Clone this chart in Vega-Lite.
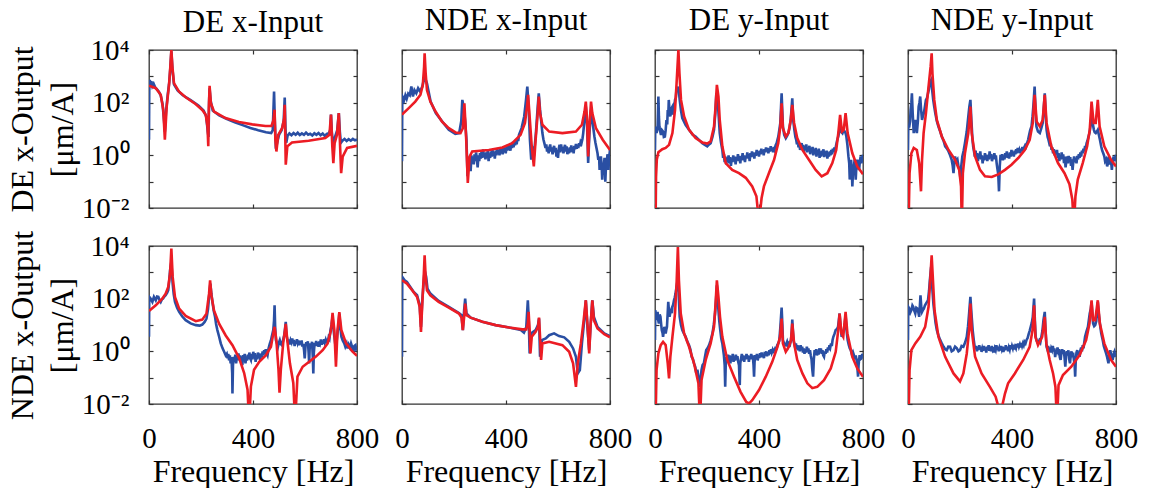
{
"$schema": "https://vega.github.io/schema/vega-lite/v6.json",
"padding": {"left": 5, "top": 4, "right": 5, "bottom": 0},
"config": {
  "font": "Liberation Serif",
  "view": {"stroke": "#333333", "strokeWidth": 1.3},
  "axis": {"domain": false, "grid": false, "tickColor": "#333333", "tickSize": -4, "tickWidth": 1.2,
    "labelFont": "Liberation Serif", "labelFontSize": 29, "labelColor": "#000000",
    "titleFont": "Liberation Serif", "titleFontSize": 32, "titleFontWeight": "normal", "titleColor": "#000000",
    "labelFlush": false, "labelOverlap": false, "labelBound": false},
  "title": {"font": "Liberation Serif", "fontSize": 31, "fontWeight": "normal", "color": "#000000", "offset": 12}
},
"datasets": {
"m11": [{"f":0,"a":3.9},{"f":1,"a":300},{"f":3,"a":730},{"f":6,"a":480},{"f":9,"a":650},{"f":13,"a":420},{"f":18,"a":520},{"f":24,"a":380},{"f":30,"a":330},{"f":38,"a":260},{"f":45,"a":190},{"f":52,"a":90},{"f":58,"a":20},{"f":61,"a":8},{"f":65,"a":40},{"f":72,"a":200},{"f":78,"a":600},{"f":82,"a":2000},{"f":86,"a":9000},{"f":90,"a":2000},{"f":96,"a":500},{"f":110,"a":290},{"f":130,"a":190},{"f":160,"a":125},{"f":190,"a":78},{"f":210,"a":50},{"f":220,"a":30},{"f":226,"a":8},{"f":229,"a":5},{"f":231,"a":100},{"f":233,"a":350},{"f":237,"a":120},{"f":245,"a":50},{"f":270,"a":33},{"f":300,"a":24},{"f":330,"a":18},{"f":360,"a":14},{"f":390,"a":11},{"f":420,"a":9},{"f":450,"a":7.5},{"f":470,"a":7},{"f":476,"a":9},{"f":481,"a":265},{"f":484,"a":20},{"f":488,"a":1.8},{"f":493,"a":3},{"f":500,"a":6},{"f":510,"a":9},{"f":518,"a":20},{"f":522,"a":155},{"f":525,"a":10},{"f":528,"a":3},{"f":533,"a":5.5},{"f":540,"a":6.8},{"f":548,"a":5.8},{"f":556,"a":7},{"f":564,"a":6},{"f":572,"a":7.2},{"f":580,"a":5.9},{"f":588,"a":6.8},{"f":596,"a":6},{"f":604,"a":7.3},{"f":612,"a":6.1},{"f":620,"a":6.6},{"f":628,"a":5.7},{"f":636,"a":6.9},{"f":644,"a":6},{"f":652,"a":7},{"f":660,"a":5.8},{"f":668,"a":6.7},{"f":676,"a":5.5},{"f":684,"a":6.5},{"f":692,"a":7},{"f":697,"a":9},{"f":700,"a":35},{"f":703,"a":8},{"f":708,"a":2.5},{"f":712,"a":4},{"f":718,"a":6},{"f":724,"a":9},{"f":730,"a":40},{"f":734,"a":8},{"f":738,"a":3},{"f":744,"a":3.6},{"f":752,"a":4.2},{"f":760,"a":3.5},{"f":768,"a":4.1},{"f":776,"a":3.6},{"f":784,"a":4.2},{"f":792,"a":3.7},{"f":800,"a":4}],
"r11": [{"f":0,"a":440},{"f":26,"a":355},{"f":45,"a":200},{"f":55,"a":54},{"f":61,"a":3.9},{"f":68,"a":71},{"f":77,"a":470},{"f":82,"a":2300},{"f":86,"a":10000},{"f":90,"a":2300},{"f":96,"a":550},{"f":115,"a":265},{"f":141,"a":160},{"f":179,"a":89},{"f":205,"a":53},{"f":218,"a":35},{"f":225,"a":12.5},{"f":228,"a":2.2},{"f":230,"a":54},{"f":233,"a":440},{"f":238,"a":95},{"f":250,"a":46},{"f":294,"a":26},{"f":346,"a":18.5},{"f":397,"a":15},{"f":448,"a":13},{"f":471,"a":13},{"f":479,"a":22},{"f":483,"a":54},{"f":486,"a":3.9},{"f":490,"a":1.4},{"f":497,"a":6},{"f":512,"a":10.7},{"f":520,"a":26},{"f":522,"a":83},{"f":526,"a":0.44},{"f":532,"a":2.2},{"f":550,"a":3.1},{"f":614,"a":3.6},{"f":678,"a":4.5},{"f":694,"a":6},{"f":700,"a":35},{"f":705,"a":2.2},{"f":709,"a":0.5},{"f":714,"a":2.9},{"f":723,"a":6},{"f":730,"a":40},{"f":735,"a":2.2},{"f":739,"a":0.21},{"f":745,"a":0.9},{"f":762,"a":1.9},{"f":800,"a":2.3}],
"m12": [{"f":0,"a":0.59},{"f":1,"a":127},{"f":3,"a":160},{"f":8,"a":125},{"f":13,"a":190},{"f":18,"a":140},{"f":24,"a":220},{"f":30,"a":190},{"f":36,"a":410},{"f":42,"a":171},{"f":48,"a":300},{"f":55,"a":228},{"f":62,"a":353},{"f":70,"a":264},{"f":78,"a":408},{"f":84,"a":730},{"f":87,"a":850},{"f":92,"a":700},{"f":96,"a":546},{"f":110,"a":110},{"f":130,"a":40},{"f":155,"a":19},{"f":180,"a":9.3},{"f":205,"a":6.5},{"f":220,"a":7},{"f":228,"a":20},{"f":232,"a":127},{"f":237,"a":71},{"f":243,"a":20},{"f":248,"a":3.9},{"f":252,"a":0.16},{"f":255,"a":0.7},{"f":258,"a":0.3},{"f":261,"a":0.9},{"f":264,"a":0.25},{"f":267,"a":1.0},{"f":270,"a":0.5},{"f":273,"a":0.9},{"f":276,"a":0.45},{"f":279,"a":1.1},{"f":282,"a":0.6},{"f":285,"a":1.3},{"f":288,"a":0.7},{"f":291,"a":0.35},{"f":294,"a":1.0},{"f":297,"a":0.6},{"f":300,"a":1.2},{"f":303,"a":0.75},{"f":306,"a":1.4},{"f":309,"a":0.8},{"f":312,"a":1.7},{"f":315,"a":0.9},{"f":318,"a":1.2},{"f":321,"a":0.7},{"f":324,"a":1.3},{"f":327,"a":0.85},{"f":330,"a":1.5},{"f":333,"a":0.6},{"f":336,"a":1.1},{"f":339,"a":0.8},{"f":342,"a":1.4},{"f":345,"a":0.9},{"f":348,"a":1.6},{"f":351,"a":1.0},{"f":354,"a":1.3},{"f":357,"a":0.75},{"f":360,"a":1.5},{"f":363,"a":1.0},{"f":366,"a":1.8},{"f":369,"a":1.1},{"f":372,"a":1.6},{"f":375,"a":1.0},{"f":378,"a":1.9},{"f":381,"a":1.2},{"f":384,"a":1.7},{"f":387,"a":1.1},{"f":390,"a":2.1},{"f":393,"a":1.3},{"f":396,"a":1.9},{"f":399,"a":1.2},{"f":402,"a":2.2},{"f":405,"a":1.5},{"f":408,"a":2.6},{"f":411,"a":1.6},{"f":414,"a":2.3},{"f":417,"a":1.5},{"f":420,"a":2.8},{"f":423,"a":1.9},{"f":426,"a":3.2},{"f":429,"a":2.0},{"f":432,"a":3.4},{"f":435,"a":2.4},{"f":438,"a":3.9},{"f":441,"a":2.6},{"f":444,"a":4.5},{"f":447,"a":3.5},{"f":450,"a":6},{"f":455,"a":8},{"f":460,"a":10.8},{"f":465,"a":18},{"f":470,"a":30},{"f":477,"a":127},{"f":482,"a":408},{"f":487,"a":71},{"f":492,"a":3.9},{"f":497,"a":0.68},{"f":502,"a":2.2},{"f":507,"a":0.91},{"f":515,"a":7},{"f":522,"a":71},{"f":526,"a":228},{"f":531,"a":53},{"f":540,"a":7},{"f":544,"a":4},{"f":548,"a":2.8},{"f":552,"a":1.9},{"f":555,"a":2.6},{"f":558,"a":1.4},{"f":561,"a":2.1},{"f":564,"a":1.2},{"f":567,"a":1.9},{"f":570,"a":2.6},{"f":573,"a":1.4},{"f":576,"a":2.0},{"f":579,"a":1.1},{"f":582,"a":1.7},{"f":585,"a":2.3},{"f":588,"a":1.3},{"f":591,"a":1.9},{"f":594,"a":0.9},{"f":597,"a":1.6},{"f":600,"a":0.8},{"f":603,"a":1.8},{"f":606,"a":2.5},{"f":609,"a":1.3},{"f":612,"a":2.6},{"f":615,"a":1.5},{"f":618,"a":2.1},{"f":621,"a":1.2},{"f":624,"a":1.9},{"f":627,"a":2.5},{"f":630,"a":1.4},{"f":633,"a":2.2},{"f":636,"a":1.1},{"f":639,"a":1.8},{"f":642,"a":1.2},{"f":645,"a":2.0},{"f":648,"a":1.3},{"f":651,"a":2.4},{"f":654,"a":1.4},{"f":657,"a":2.1},{"f":660,"a":1.2},{"f":663,"a":2.3},{"f":666,"a":1.7},{"f":669,"a":2.7},{"f":672,"a":1.8},{"f":675,"a":2.5},{"f":678,"a":1.9},{"f":681,"a":2.9},{"f":684,"a":2.2},{"f":687,"a":3.2},{"f":690,"a":2.8},{"f":694,"a":4.2},{"f":697,"a":7},{"f":703,"a":30},{"f":707,"a":71},{"f":712,"a":12.4},{"f":716,"a":0.51},{"f":721,"a":7},{"f":727,"a":53},{"f":732,"a":22},{"f":740,"a":5.2},{"f":744,"a":3},{"f":748,"a":1.9},{"f":752,"a":1.2},{"f":755,"a":0.68},{"f":758,"a":0.9},{"f":760,"a":0.28},{"f":763,"a":0.6},{"f":765,"a":0.91},{"f":768,"a":0.4},{"f":770,"a":0.12},{"f":773,"a":0.5},{"f":776,"a":0.38},{"f":779,"a":0.8},{"f":782,"a":0.1},{"f":785,"a":0.5},{"f":788,"a":0.68},{"f":791,"a":1.1},{"f":794,"a":0.28},{"f":797,"a":0.9},{"f":800,"a":1.6}],
"r12": [{"f":0,"a":35},{"f":26,"a":62},{"f":51,"a":110},{"f":71,"a":200},{"f":80,"a":470},{"f":85,"a":2300},{"f":87,"a":7500},{"f":91,"a":1300},{"f":96,"a":300},{"f":109,"a":110},{"f":129,"a":46},{"f":154,"a":19},{"f":180,"a":10.7},{"f":206,"a":7.4},{"f":225,"a":7},{"f":234,"a":10.7},{"f":240,"a":95},{"f":247,"a":3.9},{"f":253,"a":0.09},{"f":260,"a":0.9},{"f":270,"a":1.4},{"f":334,"a":1.6},{"f":386,"a":2},{"f":424,"a":2.9},{"f":456,"a":6},{"f":473,"a":17},{"f":481,"a":71},{"f":485,"a":200},{"f":489,"a":54},{"f":499,"a":2.2},{"f":507,"a":0.38},{"f":514,"a":3.9},{"f":522,"a":40},{"f":526,"a":170},{"f":531,"a":40},{"f":540,"a":14.5},{"f":566,"a":8},{"f":617,"a":7},{"f":669,"a":8},{"f":692,"a":14.5},{"f":702,"a":46},{"f":707,"a":110},{"f":712,"a":22},{"f":716,"a":0.9},{"f":721,"a":12.5},{"f":727,"a":110},{"f":732,"a":40},{"f":746,"a":10.7},{"f":772,"a":3.9},{"f":800,"a":1.6}],
"m13": [{"f":0,"a":1.6},{"f":1,"a":12.4},{"f":3,"a":9.3},{"f":6,"a":7},{"f":10,"a":10.8},{"f":13,"a":171},{"f":15,"a":30},{"f":17,"a":12.4},{"f":20,"a":8},{"f":23,"a":6},{"f":27,"a":9},{"f":31,"a":8},{"f":34,"a":5},{"f":38,"a":5.2},{"f":41,"a":9},{"f":44,"a":22},{"f":47,"a":15},{"f":49,"a":53},{"f":51,"a":30},{"f":53,"a":127},{"f":56,"a":45},{"f":59,"a":30},{"f":63,"a":60},{"f":67,"a":71},{"f":70,"a":35},{"f":72,"a":40},{"f":75,"a":80},{"f":77,"a":127},{"f":80,"a":150},{"f":82,"a":264},{"f":86,"a":300},{"f":90,"a":408},{"f":95,"a":127},{"f":100,"a":50},{"f":105,"a":26},{"f":118,"a":14},{"f":131,"a":9.3},{"f":145,"a":6},{"f":156,"a":5.2},{"f":170,"a":3.8},{"f":182,"a":2.9},{"f":192,"a":2.5},{"f":201,"a":2.2},{"f":208,"a":2.6},{"f":214,"a":2.9},{"f":221,"a":5},{"f":227,"a":9.3},{"f":232,"a":40},{"f":236,"a":228},{"f":241,"a":127},{"f":245,"a":30},{"f":249,"a":7},{"f":254,"a":3},{"f":259,"a":1.6},{"f":262,"a":0.8},{"f":265,"a":1.1},{"f":268,"a":0.55},{"f":271,"a":0.9},{"f":274,"a":0.45},{"f":277,"a":0.8},{"f":280,"a":0.6},{"f":283,"a":1.0},{"f":286,"a":0.5},{"f":289,"a":0.85},{"f":292,"a":0.4},{"f":295,"a":0.75},{"f":298,"a":0.55},{"f":301,"a":1.0},{"f":304,"a":0.6},{"f":307,"a":0.9},{"f":310,"a":0.45},{"f":313,"a":0.85},{"f":316,"a":0.65},{"f":319,"a":1.1},{"f":322,"a":0.6},{"f":325,"a":0.95},{"f":328,"a":0.5},{"f":331,"a":0.9},{"f":334,"a":0.7},{"f":337,"a":1.2},{"f":340,"a":0.65},{"f":343,"a":1.0},{"f":346,"a":0.55},{"f":349,"a":0.95},{"f":352,"a":0.75},{"f":355,"a":1.3},{"f":358,"a":0.8},{"f":361,"a":1.1},{"f":364,"a":0.6},{"f":367,"a":1.2},{"f":370,"a":0.85},{"f":373,"a":1.4},{"f":376,"a":0.9},{"f":379,"a":1.3},{"f":382,"a":0.75},{"f":385,"a":1.2},{"f":388,"a":0.95},{"f":391,"a":1.6},{"f":394,"a":1.0},{"f":397,"a":1.4},{"f":400,"a":0.9},{"f":403,"a":1.5},{"f":406,"a":1.1},{"f":409,"a":1.8},{"f":412,"a":1.2},{"f":415,"a":1.6},{"f":418,"a":1.0},{"f":421,"a":1.7},{"f":424,"a":1.3},{"f":427,"a":2.0},{"f":430,"a":1.4},{"f":433,"a":1.9},{"f":436,"a":1.2},{"f":439,"a":1.8},{"f":442,"a":1.4},{"f":445,"a":2.2},{"f":448,"a":1.5},{"f":451,"a":1.9},{"f":454,"a":1.3},{"f":457,"a":2.1},{"f":460,"a":1.7},{"f":464,"a":2.4},{"f":468,"a":2.9},{"f":471,"a":3.9},{"f":474,"a":5},{"f":478,"a":9},{"f":482,"a":17},{"f":487,"a":228},{"f":492,"a":12.4},{"f":497,"a":6},{"f":503,"a":4.5},{"f":508,"a":5.5},{"f":513,"a":7},{"f":518,"a":12},{"f":522,"a":22},{"f":528,"a":147},{"f":532,"a":20},{"f":536,"a":9.3},{"f":540,"a":5},{"f":543,"a":3.9},{"f":546,"a":2.6},{"f":549,"a":3.4},{"f":552,"a":2.0},{"f":555,"a":2.8},{"f":558,"a":1.6},{"f":561,"a":2.4},{"f":564,"a":2.9},{"f":567,"a":1.7},{"f":570,"a":2.5},{"f":573,"a":1.4},{"f":576,"a":2.2},{"f":579,"a":1.6},{"f":582,"a":2.6},{"f":585,"a":1.3},{"f":588,"a":2.0},{"f":591,"a":1.5},{"f":594,"a":2.3},{"f":597,"a":1.1},{"f":600,"a":1.9},{"f":603,"a":1.4},{"f":606,"a":2.1},{"f":609,"a":1.0},{"f":612,"a":1.7},{"f":615,"a":1.2},{"f":618,"a":1.9},{"f":621,"a":0.9},{"f":624,"a":1.6},{"f":627,"a":1.1},{"f":630,"a":1.8},{"f":633,"a":0.8},{"f":636,"a":1.4},{"f":639,"a":0.9},{"f":642,"a":1.5},{"f":645,"a":1.0},{"f":648,"a":1.7},{"f":651,"a":0.85},{"f":654,"a":1.4},{"f":657,"a":1.0},{"f":660,"a":1.5},{"f":663,"a":0.75},{"f":666,"a":1.3},{"f":669,"a":0.9},{"f":672,"a":1.4},{"f":675,"a":1.0},{"f":678,"a":1.6},{"f":681,"a":1.1},{"f":684,"a":1.8},{"f":687,"a":1.3},{"f":690,"a":2.0},{"f":693,"a":1.6},{"f":697,"a":2.5},{"f":700,"a":3.5},{"f":705,"a":5.2},{"f":712,"a":12.4},{"f":716,"a":8},{"f":721,"a":7},{"f":725,"a":9},{"f":730,"a":8},{"f":733,"a":7},{"f":736,"a":5.2},{"f":740,"a":2.5},{"f":744,"a":0.91},{"f":747,"a":0.5},{"f":749,"a":0.12},{"f":751,"a":0.4},{"f":754,"a":0.68},{"f":757,"a":0.3},{"f":759,"a":0.066},{"f":762,"a":0.3},{"f":765,"a":0.38},{"f":768,"a":0.7},{"f":770,"a":0.3},{"f":772,"a":0.12},{"f":775,"a":0.5},{"f":778,"a":0.68},{"f":781,"a":0.4},{"f":785,"a":0.28},{"f":788,"a":0.6},{"f":791,"a":0.91},{"f":794,"a":0.5},{"f":797,"a":0.8},{"f":800,"a":1.05}],
"r13": [{"f":2,"a":0.002},{"f":4,"a":0.15},{"f":7,"a":0.7},{"f":13,"a":1.3},{"f":28,"a":1.7},{"f":41,"a":1.9},{"f":54,"a":2.5},{"f":67,"a":7},{"f":77,"a":53},{"f":83,"a":546},{"f":90,"a":10000},{"f":94,"a":1300},{"f":100,"a":127},{"f":112,"a":30},{"f":131,"a":9.3},{"f":156,"a":4.5},{"f":182,"a":3.08},{"f":201,"a":2.8},{"f":214,"a":3.4},{"f":227,"a":12.4},{"f":233,"a":71},{"f":238,"a":472},{"f":244,"a":171},{"f":249,"a":22},{"f":259,"a":2.2},{"f":272,"a":0.51},{"f":297,"a":0.28},{"f":323,"a":0.21},{"f":349,"a":0.14},{"f":374,"a":0.066},{"f":390,"a":0.028},{"f":400,"a":0.003},{"f":410,"a":0.024},{"f":419,"a":0.066},{"f":438,"a":0.21},{"f":458,"a":0.68},{"f":474,"a":2.9},{"f":482,"a":12.4},{"f":487,"a":95},{"f":492,"a":10.8},{"f":503,"a":5.2},{"f":513,"a":7},{"f":522,"a":22},{"f":528,"a":82},{"f":535,"a":17},{"f":547,"a":4.5},{"f":567,"a":1.6},{"f":592,"a":0.68},{"f":618,"a":0.28},{"f":641,"a":0.16},{"f":663,"a":0.21},{"f":682,"a":0.51},{"f":697,"a":1.6},{"f":705,"a":7},{"f":712,"a":34},{"f":719,"a":8},{"f":726,"a":9.3},{"f":733,"a":40},{"f":741,"a":7},{"f":759,"a":1.2},{"f":778,"a":0.38},{"f":800,"a":0.19}],
"m14": [{"f":0,"a":1.6},{"f":1,"a":12.4},{"f":5,"a":12.4},{"f":8,"a":20},{"f":10,"a":53},{"f":13,"a":100},{"f":15,"a":228},{"f":18,"a":40},{"f":22,"a":7},{"f":25,"a":12},{"f":28,"a":22},{"f":31,"a":12},{"f":34,"a":7},{"f":38,"a":20},{"f":41,"a":71},{"f":44,"a":100},{"f":47,"a":171},{"f":50,"a":60},{"f":54,"a":22},{"f":57,"a":30},{"f":61,"a":40},{"f":65,"a":70},{"f":69,"a":127},{"f":73,"a":150},{"f":77,"a":228},{"f":80,"a":300},{"f":83,"a":546},{"f":86,"a":650},{"f":89,"a":730},{"f":93,"a":300},{"f":97,"a":127},{"f":101,"a":70},{"f":105,"a":40},{"f":111,"a":20},{"f":117,"a":12.4},{"f":124,"a":8},{"f":130,"a":5.2},{"f":137,"a":3.5},{"f":143,"a":2.2},{"f":150,"a":1.8},{"f":156,"a":1.4},{"f":162,"a":1.0},{"f":168,"a":0.68},{"f":172,"a":0.4},{"f":175,"a":0.21},{"f":178,"a":0.5},{"f":181,"a":0.91},{"f":185,"a":0.6},{"f":190,"a":0.7},{"f":194,"a":0.38},{"f":198,"a":0.3},{"f":202,"a":0.12},{"f":205,"a":0.4},{"f":209,"a":0.91},{"f":214,"a":1.5},{"f":219,"a":2.9},{"f":226,"a":8},{"f":232,"a":30},{"f":236,"a":70},{"f":240,"a":127},{"f":244,"a":20},{"f":248,"a":3.9},{"f":251,"a":2.0},{"f":254,"a":1.4},{"f":257,"a":0.9},{"f":260,"a":1.5},{"f":263,"a":0.8},{"f":266,"a":1.2},{"f":269,"a":0.6},{"f":272,"a":1.1},{"f":275,"a":0.75},{"f":278,"a":1.4},{"f":281,"a":0.7},{"f":284,"a":1.0},{"f":287,"a":0.5},{"f":290,"a":0.9},{"f":293,"a":0.65},{"f":296,"a":1.2},{"f":299,"a":0.7},{"f":302,"a":1.05},{"f":305,"a":0.6},{"f":308,"a":0.95},{"f":311,"a":0.7},{"f":314,"a":1.4},{"f":317,"a":0.8},{"f":320,"a":1.1},{"f":323,"a":0.6},{"f":326,"a":0.9},{"f":329,"a":0.7},{"f":332,"a":1.2},{"f":335,"a":0.8},{"f":338,"a":1.0},{"f":341,"a":0.5},{"f":344,"a":0.3},{"f":347,"a":0.2},{"f":350,"a":0.043},{"f":353,"a":0.4},{"f":356,"a":1.05},{"f":359,"a":0.8},{"f":362,"a":1.1},{"f":365,"a":0.65},{"f":368,"a":0.9},{"f":371,"a":0.7},{"f":374,"a":1.2},{"f":377,"a":0.85},{"f":380,"a":1.4},{"f":383,"a":0.8},{"f":386,"a":1.1},{"f":389,"a":0.75},{"f":392,"a":1.3},{"f":395,"a":0.9},{"f":398,"a":1.6},{"f":401,"a":1.0},{"f":404,"a":1.3},{"f":407,"a":0.9},{"f":410,"a":1.5},{"f":413,"a":1.1},{"f":416,"a":1.7},{"f":419,"a":1.2},{"f":422,"a":1.9},{"f":425,"a":1.3},{"f":428,"a":1.6},{"f":431,"a":1.2},{"f":434,"a":1.8},{"f":437,"a":1.4},{"f":440,"a":2.1},{"f":443,"a":1.5},{"f":446,"a":1.9},{"f":449,"a":2.2},{"f":452,"a":1.7},{"f":455,"a":2.5},{"f":458,"a":2.9},{"f":462,"a":3.9},{"f":466,"a":6},{"f":470,"a":9},{"f":475,"a":12.4},{"f":479,"a":30},{"f":482,"a":71},{"f":487,"a":408},{"f":491,"a":40},{"f":494,"a":12.4},{"f":500,"a":8},{"f":507,"a":7},{"f":512,"a":10},{"f":518,"a":17},{"f":522,"a":60},{"f":526,"a":228},{"f":530,"a":30},{"f":533,"a":9.3},{"f":537,"a":5},{"f":540,"a":4},{"f":543,"a":3.0},{"f":546,"a":2.2},{"f":549,"a":2.9},{"f":552,"a":1.6},{"f":555,"a":2.0},{"f":558,"a":1.2},{"f":561,"a":1.7},{"f":564,"a":1.0},{"f":567,"a":1.5},{"f":570,"a":1.1},{"f":573,"a":1.6},{"f":576,"a":0.8},{"f":579,"a":1.2},{"f":582,"a":0.6},{"f":585,"a":1.0},{"f":588,"a":0.7},{"f":591,"a":1.3},{"f":594,"a":0.75},{"f":597,"a":1.1},{"f":600,"a":0.5},{"f":603,"a":0.9},{"f":606,"a":0.35},{"f":609,"a":0.6},{"f":612,"a":0.9},{"f":615,"a":0.5},{"f":618,"a":0.95},{"f":621,"a":0.6},{"f":624,"a":0.85},{"f":627,"a":0.4},{"f":630,"a":0.7},{"f":633,"a":0.28},{"f":636,"a":0.6},{"f":639,"a":0.9},{"f":642,"a":0.55},{"f":645,"a":0.8},{"f":648,"a":0.5},{"f":651,"a":0.95},{"f":654,"a":0.7},{"f":657,"a":1.1},{"f":660,"a":0.8},{"f":663,"a":1.3},{"f":666,"a":0.9},{"f":669,"a":1.5},{"f":672,"a":1.2},{"f":675,"a":1.8},{"f":678,"a":1.4},{"f":681,"a":2.3},{"f":684,"a":1.9},{"f":687,"a":2.9},{"f":690,"a":3.5},{"f":694,"a":5},{"f":698,"a":7},{"f":703,"a":15},{"f":707,"a":40},{"f":711,"a":15},{"f":715,"a":9.3},{"f":718,"a":7.5},{"f":722,"a":7},{"f":726,"a":8},{"f":730,"a":9.3},{"f":734,"a":6},{"f":738,"a":4},{"f":743,"a":2.2},{"f":747,"a":1.5},{"f":751,"a":1.2},{"f":755,"a":0.91},{"f":758,"a":0.6},{"f":762,"a":0.7},{"f":766,"a":0.38},{"f":769,"a":0.5},{"f":772,"a":0.9},{"f":775,"a":0.68},{"f":778,"a":0.45},{"f":781,"a":0.6},{"f":784,"a":0.28},{"f":787,"a":0.6},{"f":791,"a":0.91},{"f":794,"a":0.6},{"f":797,"a":0.8},{"f":800,"a":1.05}],
"r14": [{"f":2,"a":0.002},{"f":6,"a":0.21},{"f":13,"a":1.2},{"f":22,"a":1.9},{"f":34,"a":1.6},{"f":43,"a":0.51},{"f":50,"a":0.043},{"f":54,"a":0.68},{"f":60,"a":7},{"f":69,"a":40},{"f":79,"a":408},{"f":87,"a":2330},{"f":91,"a":7480},{"f":94,"a":1300},{"f":101,"a":127},{"f":111,"a":22},{"f":130,"a":5.2},{"f":156,"a":1.6},{"f":181,"a":0.68},{"f":197,"a":0.28},{"f":204,"a":0.066},{"f":207,"a":0.002},{"f":211,"a":0.21},{"f":219,"a":1.2},{"f":232,"a":7},{"f":240,"a":71},{"f":245,"a":7},{"f":258,"a":0.91},{"f":277,"a":0.28},{"f":296,"a":0.16},{"f":322,"a":0.15},{"f":347,"a":0.19},{"f":373,"a":0.28},{"f":398,"a":0.44},{"f":424,"a":0.79},{"f":449,"a":1.6},{"f":468,"a":3.9},{"f":480,"a":17},{"f":487,"a":197},{"f":495,"a":19},{"f":507,"a":12.4},{"f":518,"a":22},{"f":526,"a":197},{"f":533,"a":17},{"f":551,"a":2.2},{"f":577,"a":0.51},{"f":602,"a":0.21},{"f":621,"a":0.08},{"f":632,"a":0.021},{"f":638,"a":0.002},{"f":644,"a":0.028},{"f":653,"a":0.12},{"f":672,"a":0.51},{"f":689,"a":2.2},{"f":699,"a":9.3},{"f":706,"a":110},{"f":714,"a":17},{"f":722,"a":17},{"f":730,"a":127},{"f":737,"a":12.4},{"f":755,"a":2.2},{"f":781,"a":0.68},{"f":800,"a":0.38}],
"m21": [{"f":0,"a":3.6},{"f":1,"a":117},{"f":6,"a":101},{"f":13,"a":75},{"f":19,"a":117},{"f":26,"a":87},{"f":31,"a":120},{"f":36,"a":117},{"f":40,"a":90},{"f":45,"a":75},{"f":50,"a":95},{"f":54,"a":101},{"f":59,"a":120},{"f":64,"a":135},{"f":70,"a":170},{"f":74,"a":209},{"f":78,"a":500},{"f":81,"a":1197},{"f":86,"a":2476},{"f":91,"a":374},{"f":95,"a":150},{"f":100,"a":75},{"f":108,"a":45},{"f":116,"a":31.5},{"f":128,"a":21},{"f":141,"a":15.2},{"f":160,"a":11.5},{"f":180,"a":9.9},{"f":195,"a":9.5},{"f":205,"a":10.4},{"f":214,"a":13},{"f":221,"a":17.6},{"f":227,"a":40},{"f":231,"a":117},{"f":236,"a":374},{"f":240,"a":150},{"f":244,"a":75},{"f":249,"a":35},{"f":254,"a":20.4},{"f":258,"a":11},{"f":263,"a":6.4},{"f":270,"a":3.5},{"f":276,"a":2},{"f":283,"a":1.3},{"f":289,"a":0.96},{"f":295,"a":0.7},{"f":299,"a":0.8},{"f":302,"a":0.54},{"f":305,"a":0.8},{"f":308,"a":0.45},{"f":311,"a":0.7},{"f":314,"a":0.35},{"f":317,"a":0.6},{"f":320,"a":0.15},{"f":321,"a":0.025},{"f":323,"a":0.3},{"f":326,"a":0.62},{"f":329,"a":0.4},{"f":332,"a":0.75},{"f":335,"a":0.35},{"f":338,"a":0.6},{"f":341,"a":0.45},{"f":344,"a":0.83},{"f":347,"a":0.5},{"f":350,"a":0.7},{"f":353,"a":0.4},{"f":356,"a":0.65},{"f":359,"a":0.3},{"f":362,"a":0.72},{"f":365,"a":0.5},{"f":368,"a":0.8},{"f":371,"a":0.35},{"f":374,"a":0.6},{"f":377,"a":0.45},{"f":380,"a":0.75},{"f":383,"a":0.5},{"f":386,"a":0.9},{"f":389,"a":0.55},{"f":392,"a":0.47},{"f":395,"a":0.8},{"f":398,"a":0.5},{"f":401,"a":0.96},{"f":404,"a":0.6},{"f":407,"a":0.85},{"f":410,"a":0.4},{"f":413,"a":0.7},{"f":416,"a":0.5},{"f":419,"a":0.9},{"f":422,"a":0.6},{"f":425,"a":0.83},{"f":428,"a":0.45},{"f":431,"a":0.75},{"f":434,"a":0.6},{"f":437,"a":1.0},{"f":440,"a":0.7},{"f":443,"a":1.11},{"f":446,"a":0.8},{"f":449,"a":1.2},{"f":452,"a":0.9},{"f":456,"a":0.72},{"f":460,"a":1.3},{"f":465,"a":2},{"f":469,"a":2.6},{"f":472,"a":3.56},{"f":478,"a":6.4},{"f":481,"a":15},{"f":483,"a":56},{"f":485,"a":10},{"f":488,"a":2.67},{"f":492,"a":2.0},{"f":496,"a":1.49},{"f":500,"a":2.2},{"f":503,"a":2.67},{"f":507,"a":1.9},{"f":511,"a":1.72},{"f":515,"a":2.5},{"f":520,"a":4.1},{"f":523,"a":7},{"f":526,"a":13.2},{"f":529,"a":4},{"f":533,"a":2.67},{"f":536,"a":2.0},{"f":539,"a":2.8},{"f":542,"a":1.8},{"f":545,"a":2.6},{"f":548,"a":2.2},{"f":551,"a":3.1},{"f":554,"a":2.0},{"f":557,"a":2.7},{"f":560,"a":1.6},{"f":563,"a":2.4},{"f":566,"a":1.9},{"f":569,"a":2.9},{"f":572,"a":2.1},{"f":575,"a":2.6},{"f":578,"a":1.7},{"f":581,"a":2.4},{"f":584,"a":1.9},{"f":587,"a":2.6},{"f":590,"a":1.5},{"f":593,"a":1.9},{"f":596,"a":1.2},{"f":599,"a":0.54},{"f":602,"a":1.6},{"f":605,"a":2.2},{"f":608,"a":1.7},{"f":611,"a":2.4},{"f":614,"a":0.9},{"f":616,"a":0.35},{"f":618,"a":1.3},{"f":621,"a":2.0},{"f":624,"a":1.6},{"f":627,"a":2.3},{"f":630,"a":0.6},{"f":632,"a":0.145},{"f":634,"a":0.9},{"f":637,"a":2.1},{"f":640,"a":1.7},{"f":643,"a":2.5},{"f":646,"a":1.6},{"f":649,"a":2.2},{"f":652,"a":1.5},{"f":655,"a":2.4},{"f":658,"a":2.0},{"f":661,"a":2.8},{"f":664,"a":1.8},{"f":667,"a":2.5},{"f":670,"a":1.9},{"f":673,"a":2.9},{"f":676,"a":2.2},{"f":679,"a":2.7},{"f":682,"a":2.0},{"f":685,"a":3.0},{"f":688,"a":2.3},{"f":691,"a":3.4},{"f":694,"a":3.0},{"f":698,"a":6.4},{"f":702,"a":10},{"f":706,"a":20.4},{"f":709,"a":8},{"f":713,"a":3.56},{"f":716,"a":2},{"f":719,"a":1.11},{"f":722,"a":2.5},{"f":725,"a":4.8},{"f":729,"a":10},{"f":732,"a":27.3},{"f":736,"a":8},{"f":740,"a":3.56},{"f":745,"a":2.6},{"f":751,"a":2},{"f":755,"a":1.5},{"f":760,"a":2.0},{"f":764,"a":1.29},{"f":768,"a":1.8},{"f":773,"a":1.4},{"f":777,"a":2},{"f":781,"a":1.5},{"f":786,"a":0.96},{"f":790,"a":1.6},{"f":794,"a":1.72},{"f":797,"a":1.2},{"f":800,"a":1.29}],
"r21": [{"f":0,"a":34},{"f":26,"a":56},{"f":51,"a":100},{"f":64,"a":155},{"f":74,"a":280},{"f":81,"a":900},{"f":86,"a":8000},{"f":91,"a":670},{"f":100,"a":115},{"f":116,"a":42},{"f":141,"a":22},{"f":180,"a":14},{"f":205,"a":16},{"f":221,"a":27},{"f":231,"a":155},{"f":235,"a":500},{"f":240,"a":135},{"f":250,"a":36},{"f":270,"a":11},{"f":295,"a":4},{"f":321,"a":1.7},{"f":347,"a":0.54},{"f":366,"a":0.15},{"f":379,"a":0.035},{"f":385,"a":0.002},{"f":392,"a":0.047},{"f":404,"a":0.2},{"f":424,"a":0.4},{"f":449,"a":0.7},{"f":469,"a":1.5},{"f":478,"a":4.7},{"f":483,"a":8.5},{"f":490,"a":2.6},{"f":498,"a":0.2},{"f":502,"a":0.027},{"f":507,"a":0.2},{"f":516,"a":2},{"f":523,"a":6.3},{"f":526,"a":11},{"f":532,"a":2.6},{"f":542,"a":0.35},{"f":555,"a":0.063},{"f":562,"a":0.002},{"f":571,"a":0.11},{"f":591,"a":0.26},{"f":616,"a":0.4},{"f":642,"a":0.63},{"f":668,"a":1.1},{"f":687,"a":2},{"f":700,"a":6.3},{"f":706,"a":29},{"f":713,"a":6.3},{"f":719,"a":0.26},{"f":725,"a":6.3},{"f":732,"a":31},{"f":740,"a":6.3},{"f":758,"a":2},{"f":783,"a":0.97},{"f":800,"a":0.67}],
"m22": [{"f":0,"a":0.62},{"f":1,"a":668},{"f":10,"a":500},{"f":19,"a":433},{"f":32,"a":279},{"f":45,"a":181},{"f":58,"a":135},{"f":68,"a":56},{"f":73,"a":8.5},{"f":78,"a":87},{"f":84,"a":500},{"f":87,"a":1197},{"f":93,"a":668},{"f":98,"a":242},{"f":109,"a":156},{"f":141,"a":82},{"f":180,"a":49},{"f":219,"a":28.5},{"f":229,"a":23.6},{"f":234,"a":6.4},{"f":239,"a":36.5},{"f":243,"a":101},{"f":248,"a":27.3},{"f":264,"a":19},{"f":309,"a":13.2},{"f":360,"a":9.9},{"f":412,"a":8},{"f":457,"a":6.4},{"f":469,"a":5.1},{"f":478,"a":8.5},{"f":484,"a":87},{"f":487,"a":20.4},{"f":491,"a":0.83},{"f":496,"a":4.8},{"f":514,"a":6.4},{"f":523,"a":9.9},{"f":527,"a":17.6},{"f":531,"a":0.62},{"f":538,"a":2.67},{"f":553,"a":3.08},{"f":566,"a":4.1},{"f":585,"a":4.8},{"f":604,"a":3.8},{"f":624,"a":3.4},{"f":643,"a":2.3},{"f":658,"a":1.29},{"f":669,"a":0.62},{"f":676,"a":0.145},{"f":684,"a":0.195},{"f":692,"a":2},{"f":701,"a":15.2},{"f":707,"a":87},{"f":714,"a":6.4},{"f":720,"a":1.11},{"f":725,"a":8.5},{"f":732,"a":87},{"f":738,"a":20.4},{"f":752,"a":8.5},{"f":778,"a":4.8},{"f":800,"a":3.8}],
"r22": [{"f":0,"a":500},{"f":19,"a":374},{"f":39,"a":209},{"f":58,"a":117},{"f":68,"a":49},{"f":73,"a":5.5},{"f":78,"a":65},{"f":84,"a":895},{"f":87,"a":4430},{"f":91,"a":668},{"f":96,"a":209},{"f":109,"a":135},{"f":141,"a":75.5},{"f":180,"a":46},{"f":219,"a":27.3},{"f":229,"a":19},{"f":234,"a":6.4},{"f":239,"a":20.4},{"f":243,"a":65},{"f":248,"a":23.6},{"f":264,"a":19},{"f":309,"a":13.2},{"f":360,"a":9.9},{"f":412,"a":8},{"f":463,"a":6.8},{"f":478,"a":6.8},{"f":484,"a":11.4},{"f":487,"a":31.5},{"f":491,"a":6.4},{"f":494,"a":0.83},{"f":499,"a":3.56},{"f":514,"a":5.5},{"f":523,"a":8.5},{"f":527,"a":19},{"f":531,"a":3.56},{"f":535,"a":0.47},{"f":540,"a":2},{"f":566,"a":2.3},{"f":617,"a":1.72},{"f":643,"a":0.96},{"f":658,"a":0.35},{"f":669,"a":0.045},{"f":676,"a":0.35},{"f":688,"a":2},{"f":698,"a":13.2},{"f":707,"a":87},{"f":714,"a":8.5},{"f":720,"a":0.83},{"f":725,"a":8.5},{"f":732,"a":87},{"f":738,"a":15.2},{"f":752,"a":7.4},{"f":778,"a":4.5},{"f":800,"a":3.4}],
"m23": [{"f":0,"a":2.67},{"f":1,"a":36.5},{"f":3,"a":27.3},{"f":6,"a":15.2},{"f":10,"a":31.5},{"f":13,"a":14},{"f":15,"a":11.4},{"f":18,"a":25},{"f":21,"a":20.4},{"f":24,"a":10},{"f":26,"a":6.4},{"f":29,"a":5},{"f":31,"a":3.56},{"f":34,"a":6},{"f":36,"a":8.5},{"f":39,"a":6},{"f":41,"a":4.8},{"f":44,"a":7},{"f":46,"a":8.5},{"f":49,"a":30},{"f":51,"a":75.5},{"f":54,"a":30},{"f":56,"a":20.4},{"f":59,"a":30},{"f":62,"a":36.5},{"f":65,"a":28},{"f":67,"a":49},{"f":70,"a":60},{"f":73,"a":87},{"f":76,"a":110},{"f":79,"a":156},{"f":82,"a":250},{"f":85,"a":374},{"f":88,"a":668},{"f":91,"a":150},{"f":95,"a":20.4},{"f":100,"a":10},{"f":105,"a":6.4},{"f":111,"a":4.8},{"f":118,"a":3.56},{"f":124,"a":2.4},{"f":131,"a":1.72},{"f":136,"a":1.2},{"f":141,"a":0.62},{"f":146,"a":0.5},{"f":150,"a":0.35},{"f":155,"a":0.25},{"f":159,"a":0.145},{"f":163,"a":0.2},{"f":167,"a":0.109},{"f":170,"a":0.08},{"f":173,"a":0.045},{"f":176,"a":0.1},{"f":179,"a":0.195},{"f":183,"a":0.3},{"f":188,"a":0.35},{"f":192,"a":0.6},{"f":197,"a":1.11},{"f":202,"a":1.3},{"f":208,"a":1.72},{"f":214,"a":2.6},{"f":221,"a":4.8},{"f":226,"a":10},{"f":231,"a":27.3},{"f":235,"a":100},{"f":238,"a":323},{"f":241,"a":100},{"f":244,"a":36.5},{"f":247,"a":15},{"f":251,"a":6.4},{"f":255,"a":3},{"f":259,"a":2},{"f":262,"a":1.2},{"f":265,"a":0.7},{"f":268,"a":0.3},{"f":270,"a":0.045},{"f":272,"a":0.3},{"f":275,"a":0.6},{"f":278,"a":0.4},{"f":281,"a":0.75},{"f":284,"a":0.45},{"f":287,"a":0.7},{"f":290,"a":0.35},{"f":293,"a":0.65},{"f":296,"a":0.5},{"f":299,"a":0.8},{"f":302,"a":0.4},{"f":305,"a":0.6},{"f":308,"a":0.45},{"f":311,"a":0.75},{"f":314,"a":0.5},{"f":317,"a":0.65},{"f":320,"a":0.4},{"f":323,"a":0.3},{"f":326,"a":0.052},{"f":328,"a":0.35},{"f":331,"a":0.54},{"f":334,"a":0.8},{"f":337,"a":0.45},{"f":340,"a":0.7},{"f":343,"a":0.4},{"f":346,"a":0.65},{"f":349,"a":0.5},{"f":352,"a":0.79},{"f":355,"a":0.55},{"f":358,"a":0.7},{"f":361,"a":0.4},{"f":364,"a":0.65},{"f":367,"a":0.5},{"f":370,"a":0.8},{"f":373,"a":0.55},{"f":376,"a":0.7},{"f":379,"a":0.3},{"f":381,"a":0.109},{"f":383,"a":0.4},{"f":386,"a":0.72},{"f":389,"a":0.5},{"f":392,"a":0.8},{"f":395,"a":0.45},{"f":398,"a":0.7},{"f":401,"a":0.55},{"f":404,"a":0.85},{"f":407,"a":0.6},{"f":410,"a":0.9},{"f":413,"a":0.6},{"f":416,"a":0.8},{"f":419,"a":0.55},{"f":422,"a":0.95},{"f":425,"a":0.7},{"f":428,"a":1.0},{"f":431,"a":0.65},{"f":434,"a":0.9},{"f":437,"a":0.7},{"f":440,"a":1.1},{"f":443,"a":0.8},{"f":446,"a":1.2},{"f":449,"a":0.9},{"f":452,"a":1.1},{"f":455,"a":0.85},{"f":458,"a":1.3},{"f":461,"a":1.0},{"f":464,"a":1.5},{"f":467,"a":1.2},{"f":470,"a":1.7},{"f":474,"a":2},{"f":478,"a":2.5},{"f":482,"a":8},{"f":487,"a":46},{"f":490,"a":10},{"f":492,"a":2.67},{"f":497,"a":1.9},{"f":503,"a":1.72},{"f":508,"a":2.3},{"f":512,"a":1.6},{"f":515,"a":2},{"f":519,"a":1.8},{"f":523,"a":2.67},{"f":526,"a":6},{"f":528,"a":16},{"f":531,"a":5},{"f":533,"a":2.5},{"f":536,"a":2},{"f":539,"a":1.4},{"f":542,"a":2.0},{"f":545,"a":1.2},{"f":548,"a":1.7},{"f":551,"a":1.1},{"f":554,"a":1.6},{"f":557,"a":1.0},{"f":560,"a":1.72},{"f":563,"a":1.1},{"f":566,"a":1.5},{"f":569,"a":0.9},{"f":572,"a":1.3},{"f":575,"a":0.8},{"f":578,"a":1.2},{"f":581,"a":0.9},{"f":584,"a":1.5},{"f":587,"a":1.0},{"f":590,"a":1.3},{"f":593,"a":0.8},{"f":596,"a":1.1},{"f":599,"a":0.7},{"f":602,"a":0.5},{"f":605,"a":0.2},{"f":608,"a":0.109},{"f":611,"a":0.5},{"f":614,"a":1.11},{"f":617,"a":0.8},{"f":620,"a":1.2},{"f":623,"a":0.7},{"f":626,"a":1.0},{"f":629,"a":0.75},{"f":632,"a":1.3},{"f":635,"a":0.9},{"f":638,"a":1.29},{"f":641,"a":0.8},{"f":644,"a":1.1},{"f":647,"a":0.7},{"f":650,"a":0.62},{"f":653,"a":1.0},{"f":656,"a":0.8},{"f":659,"a":1.2},{"f":662,"a":0.9},{"f":665,"a":1.4},{"f":668,"a":1.1},{"f":671,"a":1.7},{"f":674,"a":1.4},{"f":677,"a":2.0},{"f":680,"a":1.6},{"f":683,"a":2.7},{"f":686,"a":3.56},{"f":690,"a":4.5},{"f":695,"a":6.4},{"f":700,"a":7},{"f":704,"a":8.5},{"f":707,"a":15},{"f":710,"a":27.3},{"f":714,"a":8},{"f":718,"a":3.56},{"f":722,"a":5},{"f":726,"a":6.4},{"f":730,"a":12},{"f":733,"a":23.6},{"f":737,"a":6},{"f":741,"a":2.67},{"f":745,"a":1.8},{"f":749,"a":1.3},{"f":753,"a":1.11},{"f":757,"a":0.8},{"f":761,"a":0.95},{"f":765,"a":0.72},{"f":769,"a":0.5},{"f":772,"a":0.7},{"f":774,"a":0.54},{"f":777,"a":0.4},{"f":779,"a":0.2},{"f":781,"a":0.109},{"f":783,"a":0.3},{"f":787,"a":0.72},{"f":790,"a":0.5},{"f":794,"a":0.54},{"f":797,"a":0.8},{"f":800,"a":0.62}],
"r23": [{"f":2,"a":0.002},{"f":6,"a":0.195},{"f":13,"a":0.83},{"f":22,"a":1.72},{"f":31,"a":2.3},{"f":41,"a":1.72},{"f":49,"a":0.35},{"f":54,"a":0.094},{"f":59,"a":0.62},{"f":67,"a":3.56},{"f":77,"a":27.3},{"f":83,"a":374},{"f":88,"a":9160},{"f":92,"a":500},{"f":99,"a":27.3},{"f":112,"a":4.8},{"f":131,"a":1.49},{"f":150,"a":0.35},{"f":167,"a":0.061},{"f":173,"a":0.002},{"f":179,"a":0.081},{"f":195,"a":0.47},{"f":214,"a":2},{"f":227,"a":8.5},{"f":233,"a":65},{"f":238,"a":500},{"f":244,"a":117},{"f":250,"a":20.4},{"f":259,"a":3.56},{"f":278,"a":0.47},{"f":304,"a":0.109},{"f":329,"a":0.029},{"f":351,"a":0.012},{"f":362,"a":0.0106},{"f":374,"a":0.014},{"f":400,"a":0.034},{"f":426,"a":0.109},{"f":451,"a":0.4},{"f":471,"a":1.49},{"f":481,"a":3.56},{"f":487,"a":17.6},{"f":492,"a":2},{"f":503,"a":0.96},{"f":515,"a":1.49},{"f":523,"a":2.67},{"f":528,"a":11.4},{"f":535,"a":2},{"f":547,"a":0.47},{"f":567,"a":0.145},{"f":586,"a":0.061},{"f":605,"a":0.04},{"f":624,"a":0.045},{"f":650,"a":0.081},{"f":676,"a":0.225},{"f":695,"a":0.96},{"f":704,"a":5.5},{"f":710,"a":27.3},{"f":717,"a":4.8},{"f":724,"a":3.56},{"f":733,"a":31.5},{"f":740,"a":4.8},{"f":759,"a":0.62},{"f":778,"a":0.225},{"f":800,"a":0.109}],
"m24": [{"f":0,"a":2.67},{"f":1,"a":49},{"f":5,"a":42},{"f":9,"a":30},{"f":13,"a":36.5},{"f":17,"a":55},{"f":20,"a":49},{"f":24,"a":35},{"f":28,"a":27.3},{"f":32,"a":45},{"f":36,"a":42},{"f":40,"a":30},{"f":43,"a":20.4},{"f":46,"a":60},{"f":48,"a":135},{"f":51,"a":50},{"f":54,"a":31.5},{"f":58,"a":38},{"f":61,"a":42},{"f":65,"a":55},{"f":69,"a":65},{"f":73,"a":75},{"f":77,"a":87},{"f":81,"a":200},{"f":84,"a":500},{"f":87,"a":1000},{"f":89,"a":1600},{"f":92,"a":500},{"f":94,"a":209},{"f":98,"a":60},{"f":102,"a":27.3},{"f":106,"a":12},{"f":111,"a":6.4},{"f":117,"a":4},{"f":124,"a":2.67},{"f":130,"a":2},{"f":137,"a":1.49},{"f":143,"a":1.2},{"f":149,"a":1.11},{"f":155,"a":1.5},{"f":162,"a":1.49},{"f":168,"a":1.0},{"f":175,"a":1.11},{"f":181,"a":1.5},{"f":188,"a":1.29},{"f":194,"a":1.0},{"f":200,"a":1.11},{"f":206,"a":1.6},{"f":213,"a":1.49},{"f":220,"a":2.2},{"f":226,"a":3.56},{"f":231,"a":9},{"f":235,"a":27.3},{"f":240,"a":117},{"f":243,"a":40},{"f":245,"a":20.4},{"f":249,"a":6},{"f":253,"a":2.67},{"f":256,"a":1.6},{"f":259,"a":1.2},{"f":262,"a":1.6},{"f":265,"a":1.0},{"f":268,"a":1.4},{"f":271,"a":1.11},{"f":274,"a":1.7},{"f":277,"a":1.2},{"f":280,"a":1.5},{"f":283,"a":0.95},{"f":286,"a":1.3},{"f":289,"a":1.05},{"f":292,"a":1.6},{"f":295,"a":1.1},{"f":298,"a":1.4},{"f":301,"a":0.9},{"f":304,"a":1.5},{"f":307,"a":1.2},{"f":310,"a":1.7},{"f":313,"a":1.05},{"f":316,"a":1.4},{"f":319,"a":1.0},{"f":322,"a":1.6},{"f":325,"a":1.2},{"f":328,"a":1.45},{"f":331,"a":0.9},{"f":334,"a":1.3},{"f":337,"a":1.1},{"f":340,"a":1.7},{"f":343,"a":1.15},{"f":346,"a":1.5},{"f":349,"a":1.0},{"f":352,"a":1.35},{"f":355,"a":1.1},{"f":358,"a":1.6},{"f":361,"a":1.2},{"f":364,"a":1.5},{"f":367,"a":0.95},{"f":370,"a":1.4},{"f":373,"a":1.1},{"f":376,"a":1.7},{"f":379,"a":1.2},{"f":382,"a":1.5},{"f":385,"a":1.0},{"f":388,"a":1.4},{"f":391,"a":1.15},{"f":394,"a":1.7},{"f":397,"a":1.2},{"f":400,"a":1.6},{"f":403,"a":1.3},{"f":406,"a":1.8},{"f":409,"a":1.2},{"f":412,"a":1.5},{"f":415,"a":1.3},{"f":418,"a":1.9},{"f":421,"a":1.4},{"f":424,"a":2.0},{"f":427,"a":1.5},{"f":430,"a":1.8},{"f":433,"a":1.4},{"f":436,"a":2.1},{"f":439,"a":1.6},{"f":442,"a":2.0},{"f":445,"a":1.7},{"f":448,"a":2.3},{"f":452,"a":2.0},{"f":456,"a":2.7},{"f":460,"a":3.2},{"f":464,"a":4.5},{"f":468,"a":6},{"f":472,"a":8.5},{"f":476,"a":12},{"f":480,"a":20.4},{"f":485,"a":101},{"f":488,"a":15},{"f":491,"a":3.56},{"f":495,"a":2.5},{"f":500,"a":2},{"f":505,"a":2.6},{"f":509,"a":2.2},{"f":513,"a":3.56},{"f":517,"a":6},{"f":521,"a":15.2},{"f":526,"a":31.5},{"f":529,"a":6},{"f":533,"a":1.49},{"f":536,"a":1.2},{"f":539,"a":1.6},{"f":542,"a":1.0},{"f":545,"a":1.4},{"f":548,"a":0.9},{"f":551,"a":1.3},{"f":554,"a":1.1},{"f":557,"a":1.6},{"f":560,"a":1.0},{"f":563,"a":1.3},{"f":566,"a":0.6},{"f":569,"a":1.0},{"f":572,"a":0.8},{"f":575,"a":1.4},{"f":578,"a":1.0},{"f":581,"a":1.2},{"f":584,"a":0.6},{"f":587,"a":0.47},{"f":590,"a":0.9},{"f":593,"a":1.2},{"f":596,"a":0.8},{"f":599,"a":1.1},{"f":602,"a":0.6},{"f":605,"a":0.26},{"f":608,"a":0.7},{"f":611,"a":1.0},{"f":614,"a":0.7},{"f":617,"a":1.1},{"f":620,"a":0.5},{"f":623,"a":0.35},{"f":626,"a":0.7},{"f":629,"a":1.0},{"f":632,"a":0.6},{"f":635,"a":0.9},{"f":638,"a":0.5},{"f":641,"a":0.3},{"f":643,"a":0.109},{"f":645,"a":0.4},{"f":648,"a":0.9},{"f":651,"a":1.11},{"f":654,"a":0.7},{"f":657,"a":1.0},{"f":660,"a":0.62},{"f":663,"a":1.1},{"f":666,"a":1.4},{"f":669,"a":1.0},{"f":672,"a":1.7},{"f":675,"a":1.3},{"f":678,"a":2.2},{"f":681,"a":3.56},{"f":686,"a":5.5},{"f":692,"a":8.5},{"f":699,"a":27.3},{"f":703,"a":40},{"f":706,"a":75.5},{"f":709,"a":25},{"f":712,"a":11.4},{"f":716,"a":9},{"f":720,"a":9.9},{"f":724,"a":14},{"f":727,"a":30},{"f":730,"a":75.5},{"f":734,"a":25},{"f":738,"a":11.4},{"f":743,"a":5},{"f":749,"a":2.67},{"f":753,"a":1.6},{"f":758,"a":1.1},{"f":762,"a":0.83},{"f":766,"a":0.6},{"f":771,"a":0.35},{"f":774,"a":0.7},{"f":778,"a":1.11},{"f":782,"a":0.7},{"f":787,"a":0.47},{"f":791,"a":0.8},{"f":794,"a":0.96},{"f":797,"a":0.7},{"f":800,"a":0.62}],
"r24": [{"f":2,"a":0.002},{"f":6,"a":0.195},{"f":13,"a":1.11},{"f":28,"a":2},{"f":47,"a":3.56},{"f":66,"a":8.5},{"f":79,"a":49},{"f":87,"a":895},{"f":91,"a":4430},{"f":96,"a":500},{"f":102,"a":36.5},{"f":117,"a":3.56},{"f":143,"a":0.62},{"f":175,"a":0.145},{"f":200,"a":0.072},{"f":213,"a":0.145},{"f":226,"a":0.83},{"f":235,"a":6.4},{"f":240,"a":65},{"f":245,"a":6.4},{"f":258,"a":0.62},{"f":283,"a":0.145},{"f":315,"a":0.045},{"f":337,"a":0.019},{"f":346,"a":0.009},{"f":352,"a":0.002},{"f":361,"a":0.002},{"f":364,"a":0.01},{"f":373,"a":0.025},{"f":385,"a":0.061},{"f":411,"a":0.145},{"f":443,"a":0.47},{"f":468,"a":1.49},{"f":479,"a":6.4},{"f":485,"a":56},{"f":490,"a":3.56},{"f":500,"a":1.72},{"f":516,"a":3.56},{"f":526,"a":20.4},{"f":532,"a":2},{"f":545,"a":0.47},{"f":558,"a":0.145},{"f":567,"a":0.045},{"f":573,"a":0.002},{"f":579,"a":0.052},{"f":596,"a":0.126},{"f":628,"a":0.26},{"f":660,"a":0.72},{"f":685,"a":2.67},{"f":698,"a":11.4},{"f":706,"a":87},{"f":712,"a":15.2},{"f":720,"a":15.2},{"f":730,"a":87},{"f":738,"a":11.4},{"f":755,"a":2},{"f":781,"a":0.47},{"f":800,"a":0.26}]
},
"columns": 4,
"spacing": {"row": 38, "column": 45},
"bounds": "flush",
"concat": [
 {"width": 208, "height": 158, "title": {"text": "DE x-Input", "offset": -2.5},
  "layer": [
   {"data": {"name": "m11"}, "mark": {"type": "line", "color": "#2a4fa3", "strokeWidth": 2.6, "clip": true},
    "encoding": {"x": {"field": "f", "type": "quantitative", "scale": {"domain": [0, 800], "nice": false, "zero": false}, "axis": {"orient": "bottom", "values": [0, 400, 800], "labels": false, "title": null}},
                 "y": {"field": "a", "type": "quantitative", "scale": {"type": "log", "domain": [0.01, 10000], "nice": false}, "axis": {"orient": "left", "values": [0.01, 0.1, 1, 10, 100, 1000, 10000], "labelExpr": "datum.value > 5000 ? '10⁴' : (datum.value > 50 && datum.value < 500) ? '10²' : (datum.value > 0.5 && datum.value < 5) ? '10⁰' : datum.value < 0.05 ? '10⁻²' : ''", "labelPadding": 24, "title": ["DE x-Output", "[μm/A]"], "titlePadding": 2, "titleLineHeight": 40}}}},
   {"data": {"name": "r11"}, "mark": {"type": "line", "color": "#ec1c24", "strokeWidth": 2.6, "clip": true},
    "encoding": {"x": {"field": "f", "type": "quantitative", "scale": {"domain": [0, 800], "nice": false, "zero": false}, "axis": {"orient": "top", "values": [0, 400, 800], "labels": false, "title": null}},
                 "y": {"field": "a", "type": "quantitative", "scale": {"type": "log", "domain": [0.01, 10000], "nice": false}, "axis": {"orient": "right", "values": [0.01, 0.1, 1, 10, 100, 1000, 10000], "labels": false, "title": null}}}}
  ],
  "resolve": {"axis": {"x": "independent", "y": "independent"}}},
 {"width": 208, "height": 158, "title": "NDE x-Input",
  "layer": [
   {"data": {"name": "m12"}, "mark": {"type": "line", "color": "#2a4fa3", "strokeWidth": 2.6, "clip": true},
    "encoding": {"x": {"field": "f", "type": "quantitative", "scale": {"domain": [0, 800], "nice": false, "zero": false}, "axis": {"orient": "bottom", "values": [0, 400, 800], "labels": false, "title": null}},
                 "y": {"field": "a", "type": "quantitative", "scale": {"type": "log", "domain": [0.01, 10000], "nice": false}, "axis": {"orient": "left", "values": [0.01, 0.1, 1, 10, 100, 1000, 10000], "labels": false, "title": null}}}},
   {"data": {"name": "r12"}, "mark": {"type": "line", "color": "#ec1c24", "strokeWidth": 2.6, "clip": true},
    "encoding": {"x": {"field": "f", "type": "quantitative", "scale": {"domain": [0, 800], "nice": false, "zero": false}, "axis": {"orient": "top", "values": [0, 400, 800], "labels": false, "title": null}},
                 "y": {"field": "a", "type": "quantitative", "scale": {"type": "log", "domain": [0.01, 10000], "nice": false}, "axis": {"orient": "right", "values": [0.01, 0.1, 1, 10, 100, 1000, 10000], "labels": false, "title": null}}}}
  ],
  "resolve": {"axis": {"x": "independent", "y": "independent"}}},
 {"width": 208, "height": 158, "title": "DE y-Input",
  "layer": [
   {"data": {"name": "m13"}, "mark": {"type": "line", "color": "#2a4fa3", "strokeWidth": 2.6, "clip": true},
    "encoding": {"x": {"field": "f", "type": "quantitative", "scale": {"domain": [0, 800], "nice": false, "zero": false}, "axis": {"orient": "bottom", "values": [0, 400, 800], "labels": false, "title": null}},
                 "y": {"field": "a", "type": "quantitative", "scale": {"type": "log", "domain": [0.01, 10000], "nice": false}, "axis": {"orient": "left", "values": [0.01, 0.1, 1, 10, 100, 1000, 10000], "labels": false, "title": null}}}},
   {"data": {"name": "r13"}, "mark": {"type": "line", "color": "#ec1c24", "strokeWidth": 2.6, "clip": true},
    "encoding": {"x": {"field": "f", "type": "quantitative", "scale": {"domain": [0, 800], "nice": false, "zero": false}, "axis": {"orient": "top", "values": [0, 400, 800], "labels": false, "title": null}},
                 "y": {"field": "a", "type": "quantitative", "scale": {"type": "log", "domain": [0.01, 10000], "nice": false}, "axis": {"orient": "right", "values": [0.01, 0.1, 1, 10, 100, 1000, 10000], "labels": false, "title": null}}}}
  ],
  "resolve": {"axis": {"x": "independent", "y": "independent"}}},
 {"width": 208, "height": 158, "title": "NDE y-Input",
  "layer": [
   {"data": {"name": "m14"}, "mark": {"type": "line", "color": "#2a4fa3", "strokeWidth": 2.6, "clip": true},
    "encoding": {"x": {"field": "f", "type": "quantitative", "scale": {"domain": [0, 800], "nice": false, "zero": false}, "axis": {"orient": "bottom", "values": [0, 400, 800], "labels": false, "title": null}},
                 "y": {"field": "a", "type": "quantitative", "scale": {"type": "log", "domain": [0.01, 10000], "nice": false}, "axis": {"orient": "left", "values": [0.01, 0.1, 1, 10, 100, 1000, 10000], "labels": false, "title": null}}}},
   {"data": {"name": "r14"}, "mark": {"type": "line", "color": "#ec1c24", "strokeWidth": 2.6, "clip": true},
    "encoding": {"x": {"field": "f", "type": "quantitative", "scale": {"domain": [0, 800], "nice": false, "zero": false}, "axis": {"orient": "top", "values": [0, 400, 800], "labels": false, "title": null}},
                 "y": {"field": "a", "type": "quantitative", "scale": {"type": "log", "domain": [0.01, 10000], "nice": false}, "axis": {"orient": "right", "values": [0.01, 0.1, 1, 10, 100, 1000, 10000], "labels": false, "title": null}}}}
  ],
  "resolve": {"axis": {"x": "independent", "y": "independent"}}},
 {"width": 208, "height": 158,
  "layer": [
   {"data": {"name": "m21"}, "mark": {"type": "line", "color": "#2a4fa3", "strokeWidth": 2.6, "clip": true},
    "encoding": {"x": {"field": "f", "type": "quantitative", "scale": {"domain": [0, 800], "nice": false, "zero": false}, "axis": {"orient": "bottom", "values": [0, 400, 800], "labelPadding": 24, "title": "Frequency [Hz]", "titlePadding": 3}},
                 "y": {"field": "a", "type": "quantitative", "scale": {"type": "log", "domain": [0.01, 10000], "nice": false}, "axis": {"orient": "left", "values": [0.01, 0.1, 1, 10, 100, 1000, 10000], "labelExpr": "datum.value > 5000 ? '10⁴' : (datum.value > 50 && datum.value < 500) ? '10²' : (datum.value > 0.5 && datum.value < 5) ? '10⁰' : datum.value < 0.05 ? '10⁻²' : ''", "labelPadding": 24, "title": ["NDE x-Output", "[μm/A]"], "titlePadding": 2, "titleLineHeight": 40}}}},
   {"data": {"name": "r21"}, "mark": {"type": "line", "color": "#ec1c24", "strokeWidth": 2.6, "clip": true},
    "encoding": {"x": {"field": "f", "type": "quantitative", "scale": {"domain": [0, 800], "nice": false, "zero": false}, "axis": {"orient": "top", "values": [0, 400, 800], "labels": false, "title": null}},
                 "y": {"field": "a", "type": "quantitative", "scale": {"type": "log", "domain": [0.01, 10000], "nice": false}, "axis": {"orient": "right", "values": [0.01, 0.1, 1, 10, 100, 1000, 10000], "labels": false, "title": null}}}}
  ],
  "resolve": {"axis": {"x": "independent", "y": "independent"}}},
 {"width": 208, "height": 158,
  "layer": [
   {"data": {"name": "m22"}, "mark": {"type": "line", "color": "#2a4fa3", "strokeWidth": 2.6, "clip": true},
    "encoding": {"x": {"field": "f", "type": "quantitative", "scale": {"domain": [0, 800], "nice": false, "zero": false}, "axis": {"orient": "bottom", "values": [0, 400, 800], "labelPadding": 24, "title": "Frequency [Hz]", "titlePadding": 3}},
                 "y": {"field": "a", "type": "quantitative", "scale": {"type": "log", "domain": [0.01, 10000], "nice": false}, "axis": {"orient": "left", "values": [0.01, 0.1, 1, 10, 100, 1000, 10000], "labels": false, "title": null}}}},
   {"data": {"name": "r22"}, "mark": {"type": "line", "color": "#ec1c24", "strokeWidth": 2.6, "clip": true},
    "encoding": {"x": {"field": "f", "type": "quantitative", "scale": {"domain": [0, 800], "nice": false, "zero": false}, "axis": {"orient": "top", "values": [0, 400, 800], "labels": false, "title": null}},
                 "y": {"field": "a", "type": "quantitative", "scale": {"type": "log", "domain": [0.01, 10000], "nice": false}, "axis": {"orient": "right", "values": [0.01, 0.1, 1, 10, 100, 1000, 10000], "labels": false, "title": null}}}}
  ],
  "resolve": {"axis": {"x": "independent", "y": "independent"}}},
 {"width": 208, "height": 158,
  "layer": [
   {"data": {"name": "m23"}, "mark": {"type": "line", "color": "#2a4fa3", "strokeWidth": 2.6, "clip": true},
    "encoding": {"x": {"field": "f", "type": "quantitative", "scale": {"domain": [0, 800], "nice": false, "zero": false}, "axis": {"orient": "bottom", "values": [0, 400, 800], "labelPadding": 24, "title": "Frequency [Hz]", "titlePadding": 3}},
                 "y": {"field": "a", "type": "quantitative", "scale": {"type": "log", "domain": [0.01, 10000], "nice": false}, "axis": {"orient": "left", "values": [0.01, 0.1, 1, 10, 100, 1000, 10000], "labels": false, "title": null}}}},
   {"data": {"name": "r23"}, "mark": {"type": "line", "color": "#ec1c24", "strokeWidth": 2.6, "clip": true},
    "encoding": {"x": {"field": "f", "type": "quantitative", "scale": {"domain": [0, 800], "nice": false, "zero": false}, "axis": {"orient": "top", "values": [0, 400, 800], "labels": false, "title": null}},
                 "y": {"field": "a", "type": "quantitative", "scale": {"type": "log", "domain": [0.01, 10000], "nice": false}, "axis": {"orient": "right", "values": [0.01, 0.1, 1, 10, 100, 1000, 10000], "labels": false, "title": null}}}}
  ],
  "resolve": {"axis": {"x": "independent", "y": "independent"}}},
 {"width": 208, "height": 158,
  "layer": [
   {"data": {"name": "m24"}, "mark": {"type": "line", "color": "#2a4fa3", "strokeWidth": 2.6, "clip": true},
    "encoding": {"x": {"field": "f", "type": "quantitative", "scale": {"domain": [0, 800], "nice": false, "zero": false}, "axis": {"orient": "bottom", "values": [0, 400, 800], "labelPadding": 24, "title": "Frequency [Hz]", "titlePadding": 3}},
                 "y": {"field": "a", "type": "quantitative", "scale": {"type": "log", "domain": [0.01, 10000], "nice": false}, "axis": {"orient": "left", "values": [0.01, 0.1, 1, 10, 100, 1000, 10000], "labels": false, "title": null}}}},
   {"data": {"name": "r24"}, "mark": {"type": "line", "color": "#ec1c24", "strokeWidth": 2.6, "clip": true},
    "encoding": {"x": {"field": "f", "type": "quantitative", "scale": {"domain": [0, 800], "nice": false, "zero": false}, "axis": {"orient": "top", "values": [0, 400, 800], "labels": false, "title": null}},
                 "y": {"field": "a", "type": "quantitative", "scale": {"type": "log", "domain": [0.01, 10000], "nice": false}, "axis": {"orient": "right", "values": [0.01, 0.1, 1, 10, 100, 1000, 10000], "labels": false, "title": null}}}}
  ],
  "resolve": {"axis": {"x": "independent", "y": "independent"}}}
]
}
